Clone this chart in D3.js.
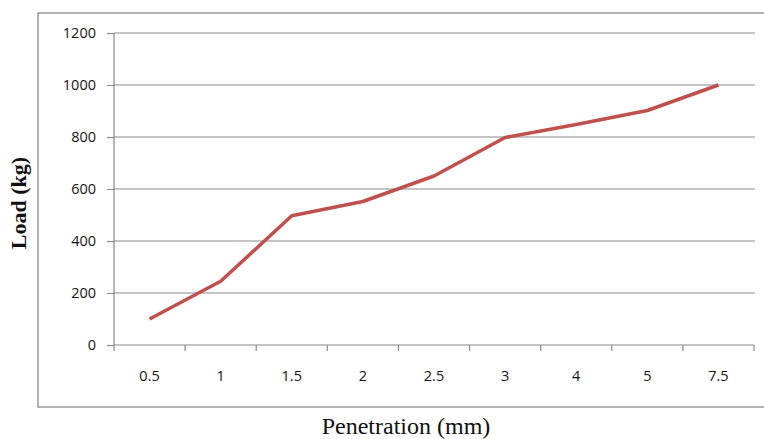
<!DOCTYPE html>
<html>
<head>
<script src="https://d3js.org/d3.v7.min.js"></script>
<style>
  body { margin: 0; background: #fff; }
</style>
</head>
<body>
<div id="chart"></div>
<script>
// data
const penetration = ["0.5", "1", "1.5", "2", "2.5", "3", "4", "5", "7.5"];
const load = [100, 245, 497, 552, 650, 798, 848, 902, 1000];
const yTicks = [0, 200, 400, 600, 800, 1000, 1200];

const width = 764, height = 439;
const plot = {left: 114, right: 754, top: 33, bottom: 345};

const svg = d3.select("#chart").append("svg")
  .attr("width", width)
  .attr("height", height);

// outer chart box
svg.append("rect")
  .attr("x", 38).attr("y", 13)
  .attr("width", 740).attr("height", 394)
  .attr("fill", "none")
  .attr("stroke", "#8c8c8c")
  .attr("stroke-width", 1.3);

const x = d3.scaleBand().domain(penetration).range([plot.left, plot.right]);
const y = d3.scaleLinear().domain([0, 1200]).range([plot.bottom, plot.top]);

// gridlines
svg.append("g")
  .selectAll("line")
  .data(yTicks.filter(d => d > 0))
  .join("line")
  .attr("x1", plot.left).attr("x2", plot.right + 1)
  .attr("y1", d => y(d)).attr("y2", d => y(d))
  .attr("stroke", "#8a8a8a")
  .attr("stroke-width", 1.2);

// y axis
const yAxis = svg.append("g")
  .attr("transform", `translate(${plot.left},0)`)
  .call(d3.axisLeft(y).tickValues(yTicks).tickFormat(d3.format("d")).tickSize(7).tickPadding(11));
yAxis.selectAll("line, path").attr("stroke", "#8a8a8a").attr("stroke-width", 1.2);
yAxis.select(".domain").attr("d", `M0,${plot.top}V${plot.bottom}`);
yAxis.selectAll("text")
  .attr("font-family", "'Open Sans', sans-serif")
  .attr("font-size", 14.5)
  .attr("fill", "#141414");

// x axis, ticks on band edges
const xAxis = svg.append("g")
  .attr("transform", `translate(0,${plot.bottom})`);
xAxis.append("line")
  .attr("x1", plot.left).attr("x2", plot.right)
  .attr("stroke", "#8a8a8a").attr("stroke-width", 1.2);
const edges = penetration.map(d => x(d)).concat([x.range()[1]]);
xAxis.selectAll("line.tick")
  .data(edges)
  .join("line")
  .attr("class", "tick")
  .attr("x1", d => d).attr("x2", d => d)
  .attr("y1", 0).attr("y2", 6)
  .attr("stroke", "#8a8a8a").attr("stroke-width", 1.2);
xAxis.selectAll("text")
  .data(penetration)
  .join("text")
  .attr("x", d => x(d) + x.bandwidth() / 2)
  .attr("y", 36)
  .attr("text-anchor", "middle")
  .attr("font-family", "'Open Sans', sans-serif")
  .attr("font-size", 14.5)
  .attr("fill", "#141414")
  .text(d => d);

// the line
const line = d3.line()
  .x((d, i) => x(penetration[i]) + x.bandwidth() / 2)
  .y(d => y(d));
svg.append("path")
  .datum(load)
  .attr("d", line)
  .attr("fill", "none")
  .attr("stroke", "#c0504d")
  .attr("stroke-width", 3.5)
  .attr("stroke-linejoin", "round");

// axis titles
svg.append("text")
  .attr("transform", "translate(26,203) rotate(-90)")
  .attr("text-anchor", "middle")
  .attr("font-family", "'Liberation Serif', 'Times New Roman', serif")
  .attr("font-weight", "bold")
  .attr("font-size", 22)
  .attr("fill", "#111")
  .text("Load (kg)");

svg.append("text")
  .attr("x", 406)
  .attr("y", 434)
  .attr("text-anchor", "middle")
  .attr("font-family", "'Liberation Serif', 'Times New Roman', serif")
  .attr("font-size", 24)
  .attr("fill", "#111")
  .text("Penetration (mm)");
</script>
</body>
</html>
